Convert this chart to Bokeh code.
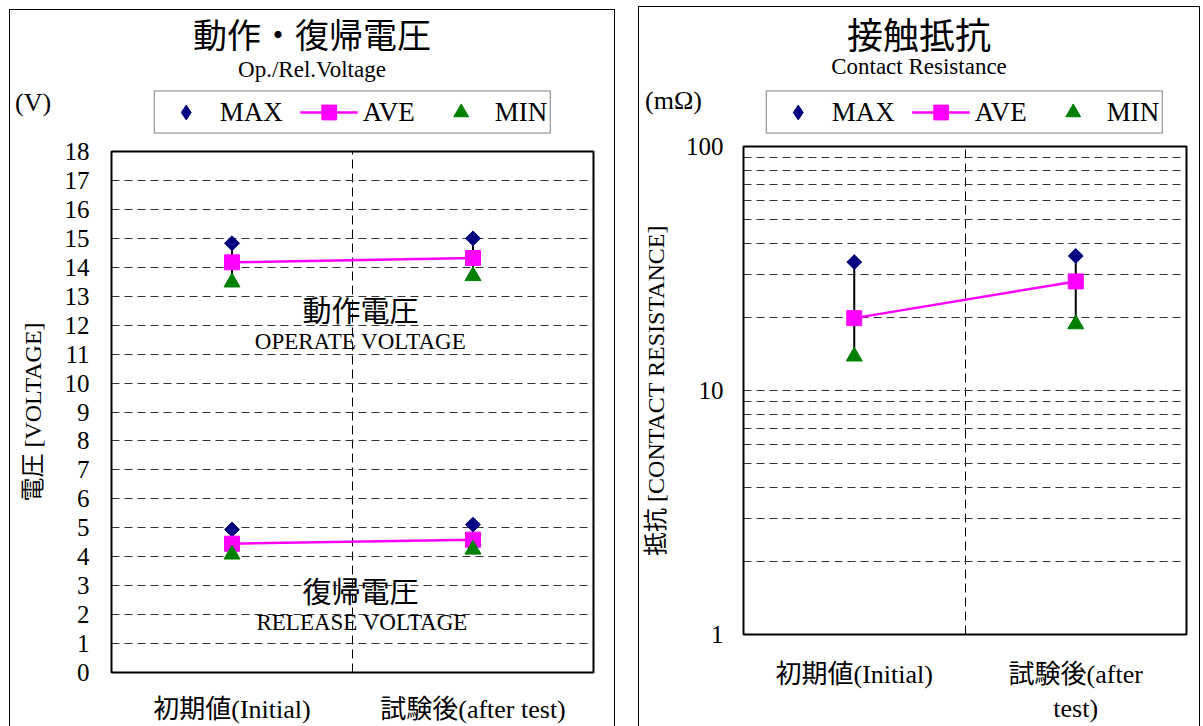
from bokeh.plotting import figure
from bokeh.models import Range1d, FixedTicker, Legend, LegendItem, Label, Div
from bokeh.layouts import row, column
from bokeh.embed import file_html
from bokeh.resources import INLINE

# ---------------- data ----------------
categories = ["初期値(Initial)", "試験後(after test)"]
categories_r = ["初期値(Initial)", "試験後(after\ntest)"]
cat_pos = [0.5, 1.5]

op_max = [14.83, 15.0]
op_ave = [14.17, 14.32]
op_min = [13.48, 13.7]
rel_max = [4.94, 5.11]
rel_ave = [4.45, 4.59]
rel_min = [4.08, 4.25]

cr_max = [33.6, 35.6]
cr_ave = [19.8, 28.0]
cr_min = [13.8, 18.7]

volt_ticks = list(range(0, 19))
res_ticks = [1, 10, 100]
res_minor = [2, 3, 4, 5, 6, 7, 8, 9, 20, 30, 40, 50, 60, 70, 80, 90]
legend_labels = ["MAX", "AVE", "MIN"]

FONT = "'Liberation Serif', 'Noto Sans CJK JP', serif"
NAVY = "#000080"
MAG = "#FF00FF"
GREEN = "#008000"
GRID = "#333333"


def style_common(p):
    p.outline_line_color = "black"
    p.outline_line_width = 2
    p.background_fill_color = "white"
    p.border_fill_color = "white"
    for ax in (p.xaxis[0], p.yaxis[0]):
        ax.axis_line_color = None
        ax.major_tick_line_color = None
        ax.minor_tick_line_color = None
        ax.major_tick_out = 0
        ax.major_tick_in = 0
        ax.minor_tick_out = 0
        ax.minor_tick_in = 0
        ax.major_label_text_font = FONT
        ax.major_label_text_color = "black"
        ax.axis_label_text_font = FONT
        ax.axis_label_text_font_style = "normal"
        ax.axis_label_text_color = "black"
    p.xaxis.ticker = FixedTicker(ticks=cat_pos)
    p.xaxis.major_label_text_font_size = "26px"
    p.yaxis.major_label_text_font_size = "25px"
    p.xgrid.ticker = FixedTicker(ticks=[1])
    p.xgrid.grid_line_color = "black"
    p.xgrid.grid_line_dash = "9 5"
    p.xgrid.grid_line_width = 1
    p.ygrid.grid_line_color = GRID
    p.ygrid.grid_line_dash = "8 5"
    p.ygrid.grid_line_width = 1


def add_series(p, xs, mx, av, mn, max_marker="square", max_angle=0.7853981634):
    p.segment(x0=xs, y0=mn, x1=xs, y1=mx, line_color="black", line_width=2)
    rl = p.line(xs, av, line_color=MAG, line_width=2.5)
    rmx = p.scatter(xs, mx, marker=max_marker, angle=max_angle, size=10.5,
                    fill_color=NAVY, line_color=NAVY)
    rav = p.scatter(xs, av, marker="square", size=15, fill_color=MAG, line_color=MAG)
    rmn = p.scatter(xs, mn, marker="triangle", size=16, fill_color=GREEN, line_color=GREEN)
    return rmx, rl, rav, rmn


def legend_fig(mx, av, mn, mt):
    # legend-only figure: the series are plotted outside its (hidden) ranges,
    # only the legend swatches are visible
    lf = figure(width=400, height=44, x_range=Range1d(10, 11), y_range=Range1d(10, 11),
                x_axis_type=None, y_axis_type=None, toolbar_location=None,
                output_backend="svg", title=None, min_border=0,
                margin=(mt, 0, 0, 0))
    lf.outline_line_color = None
    lf.grid.visible = False
    lf.background_fill_color = "white"
    lf.border_fill_color = "white"
    rmx, rl, rav, rmn = add_series(lf, cat_pos, mx, av, mn, "diamond", 0.0)
    lg = Legend(items=[LegendItem(label=legend_labels[0], renderers=[rmx]),
                       LegendItem(label=legend_labels[1], renderers=[rl, rav]),
                       LegendItem(label=legend_labels[2], renderers=[rmn])],
                orientation="horizontal", location="center")
    lg.label_text_font = FONT
    lg.label_text_font_size = "27px"
    lg.label_text_line_height = 1.0
    lg.label_text_color = "black"
    lg.label_height = 20
    lg.glyph_width = 58
    lg.glyph_height = 37
    lg.label_standoff = 5
    lg.spacing = 17
    lg.padding = 2
    lg.margin = 0
    lg.border_line_color = "black"
    lg.border_line_width = 1
    lg.background_fill_color = "white"
    lg.background_fill_alpha = 1
    lf.add_layout(lg)
    return lf


def header(title, sub, width, height, pad_top, sub_gap, tsize):
    html = (f"<div style=\"width:{width}px;font-family:{FONT};color:black;text-align:center;"
            f"padding-top:{pad_top}px;\">"
            f"<div style=\"width:{width}px;font-size:{tsize}px;line-height:40px;\">{title}</div>"
            f"<div style=\"width:{width}px;font-size:23px;line-height:22px;margin-top:{sub_gap}px;\">{sub}</div>"
            f"</div>")
    return Div(text=html, width=width, height=height, margin=(0, 0, 0, 0))


def unit_div(text, width, height, left):
    html = (f"<div style=\"font-family:{FONT};color:black;font-size:26px;"
            f"line-height:{height}px;\">{text}</div>")
    return Div(text=html, width=width, height=height, margin=(0, 0, 0, left))


def lab(p, text, x, y, size):
    p.add_layout(Label(x=x, y=y, text=text, text_font=FONT, text_font_size=size,
                       text_align="center", text_baseline="middle", text_color="black"))


PANEL = {"border-top": "1px solid black", "border-left": "1px solid black",
         "border-right": "1px solid black"}

# ---------------- left: voltage ----------------
p1 = figure(width=604, height=592, x_range=Range1d(0, 2), y_range=Range1d(0, 18),
            output_backend="svg", toolbar_location=None, title=None,
            min_border_left=101, min_border_right=21, min_border_top=17,
            min_border_bottom=54, margin=(0, 0, 0, 0))
p1.frame_align = False
style_common(p1)
p1.yaxis.ticker = FixedTicker(ticks=volt_ticks)
p1.xaxis.major_label_overrides = {cat_pos[i]: categories[i] for i in range(2)}
p1.xaxis.major_label_standoff = 22
p1.yaxis.major_label_standoff = 22
p1.yaxis.axis_label = "電圧 [VOLTAGE]"
p1.yaxis.axis_label_text_font_size = "24px"
p1.yaxis.axis_label_standoff = 16

add_series(p1, cat_pos, op_max, op_ave, op_min)
add_series(p1, cat_pos, rel_max, rel_ave, rel_min)

lab(p1, "動作電圧", 1.033, 12.47, "29px")
lab(p1, "OPERATE VOLTAGE", 1.033, 11.43, "23px")
lab(p1, "復帰電圧", 1.033, 2.76, "29px")
lab(p1, "RELEASE VOLTAGE", 1.04, 1.73, "23px")

left_panel = column(
    header("動作・復帰電圧", "Op./Rel.Voltage", 604, 70, 7, 2, 34),
    row(unit_div("(V)", 137, 46, 5), legend_fig(op_max, op_ave, op_min, 10),
        margin=(0, 0, 0, 0)),
    p1,
    margin=(9, 0, 0, 9),
)
left_panel.styles = PANEL

# ---------------- right: contact resistance ----------------
p2 = figure(width=560, height=592, x_range=Range1d(0, 2), y_range=Range1d(1, 100),
            y_axis_type="log", output_backend="svg", toolbar_location=None, title=None,
            min_border_left=103, min_border_right=13, min_border_top=12,
            min_border_bottom=90, margin=(0, 0, 0, 0))
p2.frame_align = False
style_common(p2)
p2.yaxis.ticker = FixedTicker(ticks=res_ticks, minor_ticks=res_minor)
p2.yaxis.major_label_overrides = {t: str(t) for t in res_ticks}
p2.ygrid.minor_grid_line_color = GRID
p2.ygrid.minor_grid_line_dash = "8 5"
p2.ygrid.minor_grid_line_width = 1
p2.xaxis.major_label_overrides = {cat_pos[i]: categories_r[i] for i in range(2)}
p2.xaxis.major_label_standoff = 25
p2.yaxis.major_label_standoff = 20
p2.yaxis.axis_label = "抵抗 [CONTACT RESISTANCE]"
p2.yaxis.axis_label_text_font_size = "24px"
p2.yaxis.axis_label_standoff = 14

add_series(p2, cat_pos, cr_max, cr_ave, cr_min)

right_panel = column(
    header("接触抵抗", "Contact Resistance", 560, 73, 10, -1, 36),
    row(unit_div("(mΩ)", 119, 42, 6), legend_fig(cr_max, cr_ave, cr_min, 10),
        margin=(0, 0, 0, 0)),
    p2,
    margin=(6, 0, 0, 23),
)
right_panel.styles = PANEL

layout = row(left_panel, right_panel)
open("out.html", "w").write(file_html(layout, INLINE))
